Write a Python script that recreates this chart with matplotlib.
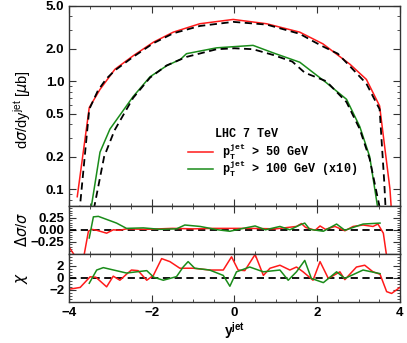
import numpy as np
import matplotlib
matplotlib.use('agg')
import matplotlib.pyplot as plt
from matplotlib.ticker import FixedLocator, MultipleLocator, NullFormatter

# top panel: d sigma / dy, theory (solid) and data (dashed)
red_x = [-3.80, -3.51, -3.25, -2.89, -2.45, -1.96, -1.48, -0.84, -0.03, 0.78, 1.58, 2.14, 2.79, 3.19, 3.51, 3.76, 3.80]
red_y = [0.085, 0.57, 0.84, 1.29, 1.72, 2.30, 2.85, 3.41, 3.74, 3.41, 2.85, 2.22, 1.44, 1.04, 0.59, 0.10, 0.06]
redd_x = [-3.75, -3.51, -3.30, -3.10, -2.89, -2.45, -1.96, -1.48, -0.84, -0.03, 0.78, 1.58, 1.90, 2.14, 2.50, 2.79, 3.19, 3.51, 3.62, 3.66]
redd_y = [0.06, 0.55, 0.82, 1.05, 1.26, 1.68, 2.25, 2.78, 3.25, 3.55, 3.35, 2.75, 2.35, 2.10, 1.80, 1.38, 0.95, 0.55, 0.12, 0.06]
green_x = [-3.47, -3.25, -3.01, -2.45, -2.04, -1.64, -1.30, -1.16, -0.43, 0.45, 0.94, 1.58, 2.22, 2.71, 3.03, 3.27, 3.47]
green_y = [0.065, 0.22, 0.36, 0.72, 1.10, 1.39, 1.60, 1.80, 2.04, 2.15, 1.83, 1.50, 0.97, 0.68, 0.38, 0.20, 0.065]
greend_x = [-3.40, -3.15, -2.90, -2.45, -2.04, -1.64, -1.16, -0.43, 0.0, 0.45, 0.94, 1.40, 1.70, 2.22, 2.71, 3.03, 3.27, 3.52, 3.55]
greend_y = [0.065, 0.20, 0.35, 0.70, 1.08, 1.40, 1.68, 1.98, 2.02, 1.98, 1.75, 1.52, 1.20, 1.00, 0.64, 0.36, 0.19, 0.065, 0.06]

# middle panel: relative difference
rr_x = [-4.0, -3.85, -3.64, -3.53, -3.45, -3.33, -3.09, -2.93, -2.77, -2.61, -2.12, -1.5, -1.0, -0.5, -0.11, 0.37, 1.0, 1.5, 1.62, 1.72, 1.95, 2.07, 2.2, 2.43, 2.67, 2.87, 3.11, 3.35, 3.47, 3.60, 3.68]
rr_y = [-0.36, -0.55, -0.55, -0.03, 0.01, -0.01, -0.07, 0.0, -0.01, 0.02, 0.01, 0.03, 0.02, 0.03, 0.03, 0.03, 0.02, 0.07, 0.13, 0.05, -0.01, 0.08, 0.01, 0.07, -0.02, 0.07, 0.10, 0.07, 0.12, -0.07, -0.55]
gr_x = [-3.51, -3.41, -3.29, -2.85, -2.61, -2.2, -1.8, -1.4, -1.2, -0.83, -0.4, -0.11, 0.21, 0.50, 0.75, 1.1, 1.34, 1.58, 1.70, 1.82, 2.15, 2.47, 2.67, 3.11, 3.52]
gr_y = [-0.17, 0.27, 0.28, 0.14, 0.03, 0.04, 0.01, 0.02, 0.10, 0.07, 0.0, -0.03, 0.03, 0.08, 0.0, 0.07, 0.0, 0.10, 0.14, 0.01, -0.03, 0.12, -0.01, 0.12, 0.14]

# bottom panel: chi
rc_x = [-4.0, -3.73, -3.49, -3.35, -3.09, -2.93, -2.77, -2.61, -2.49, -2.33, -2.12, -1.96, -1.76, -1.56, -1.32, -1.0, -0.59, -0.27, -0.07, 0.09, 0.25, 0.5, 0.7, 0.86, 1.1, 1.34, 1.5, 1.66, 1.9, 2.07, 2.27, 2.55, 2.67, 2.95, 3.15, 3.35, 3.52, 3.68, 3.8, 4.0]
rc_y = [-1.9, -1.6, 0.17, 0.1, -1.5, 0.28, -0.4, 0.6, 1.3, 1.2, -0.4, 0.4, 3.2, 2.7, 1.6, 1.6, 1.3, 1.3, 3.5, 1.3, 1.2, 3.9, 0.4, 1.6, 2.1, 1.3, 1.8, 1.0, -0.4, 2.7, -0.1, 1.0, -0.3, 1.8, 2.1, 1.0, 0.6, -2.3, -2.6, -1.6]
gc_x = [-3.51, -3.33, -3.17, -2.61, -2.12, -1.95, -1.72, -1.40, -1.24, -1.12, -0.96, -0.6, -0.27, -0.11, 0.05, 0.37, 0.7, 1.1, 1.3, 1.5, 1.7, 1.86, 2.15, 2.47, 2.67, 3.11, 3.52]
gc_y = [-0.9, 1.3, 1.7, 0.8, 1.2, 0.1, -0.4, 0.2, 1.8, 2.7, 1.6, 1.3, 0.4, -1.4, 1.0, 1.8, 1.0, 1.3, -0.4, 1.0, 2.9, -0.1, -0.8, 1.0, -0.1, 1.3, 0.7]

RED = '#ff1a1a'
GREEN = '#1a8c1a'
plt.rcParams['font.family'] = 'Liberation Sans'
plt.rcParams['axes.edgecolor'] = '#333333'
plt.rcParams['axes.linewidth'] = 1.0

fig = plt.figure(figsize=(4.07, 3.43), dpi=100)
L, W = 0.1695, 0.813
ax1 = fig.add_axes([L, 0.400, W, 0.583])
ax2 = fig.add_axes([L, 0.260, W, 0.140])
ax3 = fig.add_axes([L, 0.120, W, 0.140])

def style(ax):
    ax.set_xlim(-4, 4)
    ax.xaxis.set_major_locator(MultipleLocator(2))
    ax.xaxis.set_minor_locator(MultipleLocator(0.5))
    ax.tick_params(which='both', direction='in', top=True, right=True, color='#333333')
    ax.tick_params(which='major', length=5, width=0.8, labelsize=9.5)
    ax.tick_params(which='minor', length=2.5, width=0.6)
    for lab in ax.get_yticklabels() + ax.get_xticklabels():
        lab.set_fontweight('bold')

# top panel
ax1.plot(red_x, red_y, color=RED, lw=1.1)
ax1.plot(redd_x, redd_y, color='black', lw=1.3, ls=(0, (4, 2.5)))
ax1.plot(green_x, green_y, color=GREEN, lw=1.1)
ax1.plot(greend_x, greend_y, color='black', lw=1.3, ls=(0, (4, 2.5)))
ax1.set_yscale('log')
ax1.set_ylim(0.07, 5.0)
ax1.yaxis.set_major_locator(FixedLocator([0.1, 0.2, 0.5, 1.0, 2.0, 5.0]))
ax1.set_yticklabels(['0.1', '0.2', '0.5', '1.0', '2.0', '5.0'])
ax1.yaxis.set_minor_formatter(NullFormatter())
style(ax1)
ax1.set_xticklabels([])

mono = 'Liberation Mono'
ax1.text(0.442, 0.345, 'LHC 7 TeV', transform=ax1.transAxes, family=mono, fontsize=8.5, fontweight='bold')
ax1.plot([0.36, 0.435], [0.27, 0.27], transform=ax1.transAxes, color=RED, lw=1.1)
ax1.plot([0.36, 0.435], [0.185, 0.185], transform=ax1.transAxes, color=GREEN, lw=1.1)
ax1.text(0.462, 0.268, r'p$_\mathregular{T}^\mathregular{jet}$ > 50 GeV', transform=ax1.transAxes,
         family=mono, fontsize=8.5, fontweight='bold', va='center')
ax1.text(0.462, 0.183, r'p$_\mathregular{T}^\mathregular{jet}$ > 100 GeV (x10)', transform=ax1.transAxes,
         family=mono, fontsize=8.5, fontweight='bold', va='center')

# middle panel
ax2.axhline(0, color='black', lw=1.3, ls=(0, (4, 2.5)))
ax2.plot(rr_x, rr_y, color=RED, lw=1.1)
ax2.plot(gr_x, gr_y, color=GREEN, lw=1.1)
ax2.set_ylim(-0.5, 0.5)
ax2.set_yticks([-0.25, 0.0, 0.25])
ax2.set_yticklabels(['\u22120.25', '0.00', '0.25'])
ax2.yaxis.set_minor_locator(MultipleLocator(0.05))
style(ax2)
ax2.set_xticklabels([])

# bottom panel
ax3.axhline(0, color='black', lw=1.3, ls=(0, (4, 2.5)))
ax3.plot(rc_x, rc_y, color=RED, lw=1.1)
ax3.plot(gc_x, gc_y, color=GREEN, lw=1.1)
ax3.set_ylim(-4, 4)
ax3.set_yticks([-2, 0, 2])
ax3.set_yticklabels(['\u22122', '0', '2'])
ax3.yaxis.set_minor_locator(MultipleLocator(0.5))
ax3.set_xticks([-4, -2, 0, 2, 4])
ax3.set_xticklabels(['\u22124', '\u22122', '0', '2', '4'])
style(ax3)

fig.text(0.055, 0.68, r'd$\sigma$/dy$^\mathregular{jet}$ [$\mu$b]', rotation=90, ha='center', va='center', fontsize=10.5)
fig.text(0.055, 0.33, r'$\Delta\sigma$/$\sigma$', rotation=90, ha='center', va='center', fontsize=10.5)
fig.text(0.055, 0.19, r'$\chi$', rotation=90, ha='center', va='center', fontsize=11)
fig.text(0.577, 0.035, r'y$^\mathregular{jet}$', ha='center', va='center', fontsize=10, fontweight='bold')

fig.savefig('out.png', dpi=100)
